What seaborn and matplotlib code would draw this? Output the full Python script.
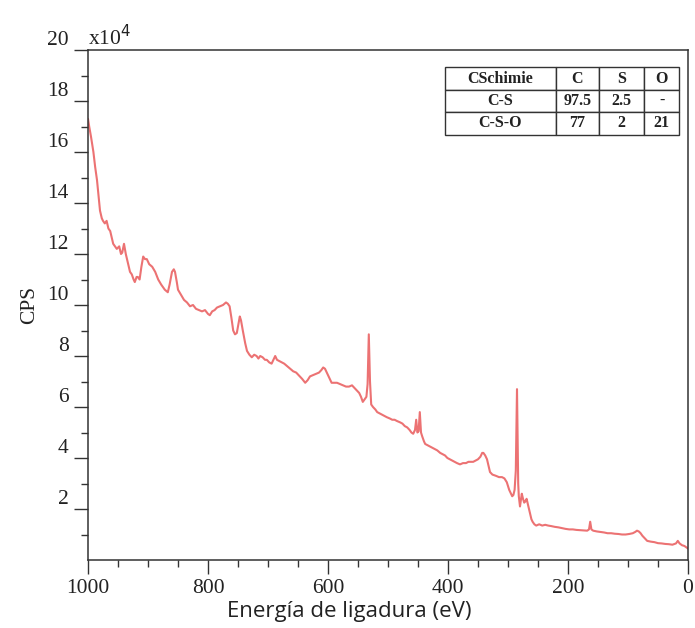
import matplotlib
matplotlib.use("Agg")
import matplotlib.pyplot as plt
import seaborn as sns

# Survey spectrum (CPS in units of 1e4)
energy_ev = [
    1000, 998, 995, 991, 988, 985, 982, 980, 977, 975, 972, 969, 966, 963, 960,
    958, 955, 952, 948, 945, 943, 940, 937, 935, 932, 930, 927, 924, 922, 919,
    917, 914, 911, 908, 905, 902, 898, 893, 888, 883, 878, 872, 867, 864, 860,
    857, 855, 852, 850, 845, 840, 835, 830, 825, 820, 815, 810, 805, 800, 797,
    793, 789, 785, 780, 775, 770, 767, 764, 761, 758, 755, 752, 749, 747, 745,
    742, 738, 735, 731, 727, 723, 719, 716, 713, 709, 705, 702, 698, 694, 691,
    688, 685, 681, 677, 673, 668, 663, 658, 653, 647, 643, 638, 634, 630, 625,
    620, 615, 611, 608, 605, 602, 598, 594, 590, 585, 580, 575, 570, 565, 560,
    556, 552, 548, 545, 542, 539, 536, 534, 532, 530, 528, 525, 521, 518, 514,
    510, 506, 502, 497, 493, 489, 485, 480, 476, 472, 468, 464, 461, 458, 455,
    453, 451, 449, 447, 445, 443, 440, 438, 434, 430, 426, 422, 418, 413, 409,
    405, 401, 397, 393, 389, 385, 380, 375, 370, 366, 362, 358, 354, 350, 346,
    343, 341, 338, 335, 332, 330, 326, 320, 315, 310, 306, 302, 298, 295, 293,
    291, 289, 287, 285, 284, 283, 282, 281, 280, 278, 277, 275, 273, 271, 269,
    267, 265, 263, 261, 259, 256, 253, 248, 243, 238, 233, 228, 222, 216, 210,
    204, 198, 192, 186, 180, 174, 168, 165, 163, 161, 158, 152, 146, 140, 134,
    128, 122, 116, 110, 104, 98, 92, 88, 85, 82, 79, 76, 72, 68, 62,
    56, 50, 44, 38, 32, 26, 20, 17, 14, 10, 6, 3, 0,
]
cps_e4 = [
    17.3, 17.0, 16.6, 16.0, 15.4, 14.9, 14.2, 13.7, 13.4, 13.3, 13.2, 13.3, 13.0, 12.9, 12.6,
    12.4, 12.3, 12.2, 12.3, 12.0, 12.05, 12.4, 12.0, 11.8, 11.5, 11.3, 11.2, 11.0, 10.9, 11.1,
    11.1, 11.0, 11.5, 11.9, 11.8, 11.8, 11.6, 11.5, 11.3, 11.0, 10.8, 10.6, 10.5, 10.8, 11.3,
    11.4, 11.3, 10.9, 10.6, 10.4, 10.2, 10.1, 9.95, 10.0, 9.85, 9.8, 9.75, 9.8, 9.65, 9.6,
    9.75, 9.8, 9.9, 9.95, 10.0, 10.1, 10.05, 9.95, 9.5, 9.0, 8.85, 8.9, 9.3, 9.55, 9.4,
    9.0, 8.5, 8.2, 8.05, 7.95, 8.05, 8.0, 7.9, 8.0, 7.95, 7.85, 7.85, 7.75, 7.7, 7.85,
    8.0, 7.85, 7.8, 7.75, 7.7, 7.6, 7.5, 7.4, 7.35, 7.2, 7.1, 6.95, 7.05, 7.2, 7.25,
    7.3, 7.35, 7.45, 7.55, 7.5, 7.35, 7.15, 6.95, 6.95, 6.95, 6.9, 6.85, 6.8, 6.8, 6.85,
    6.75, 6.65, 6.55, 6.4, 6.2, 6.3, 6.4, 6.9, 8.85, 7.0, 6.1, 6.0, 5.9, 5.8, 5.75,
    5.7, 5.65, 5.6, 5.55, 5.5, 5.5, 5.45, 5.4, 5.35, 5.25, 5.2, 5.1, 5.0, 4.95, 5.1,
    5.5, 5.0, 5.05, 5.8, 5.0, 4.85, 4.65, 4.55, 4.5, 4.45, 4.4, 4.35, 4.3, 4.2, 4.15,
    4.1, 4.0, 3.95, 3.9, 3.85, 3.8, 3.75, 3.8, 3.8, 3.85, 3.85, 3.85, 3.9, 3.95, 4.05,
    4.2, 4.2, 4.1, 3.95, 3.65, 3.45, 3.35, 3.3, 3.25, 3.25, 3.2, 3.05, 2.75, 2.6, 2.5,
    2.55, 2.75, 3.5, 6.7, 5.0, 3.0, 2.5, 2.3, 2.1, 2.45, 2.6, 2.4, 2.25, 2.3, 2.4,
    2.2, 2.0, 1.8, 1.6, 1.5, 1.4, 1.35, 1.4, 1.35, 1.38, 1.35, 1.33, 1.3, 1.28, 1.25,
    1.22, 1.2, 1.2, 1.18, 1.17, 1.16, 1.15, 1.2, 1.5, 1.2, 1.15, 1.12, 1.1, 1.08, 1.05,
    1.05, 1.03, 1.02, 1.0, 1.0, 1.02, 1.05, 1.1, 1.15, 1.12, 1.05, 0.95, 0.85, 0.75, 0.72,
    0.7, 0.66, 0.65, 0.63, 0.62, 0.6, 0.65, 0.75, 0.65, 0.58, 0.55, 0.5, 0.45,
]

x_ticks = [1000, 800, 600, 400, 200, 0]
y_ticks = [2, 4, 6, 8, 10, 12, 14, 16, 18, 20]

table_cols = ["CSchimie", "C", "S", "O"]
table_rows = [["C-S", "97.5", "2.5", "-"], ["C-S-O", "77", "2", "21"]]

_LINE_COLOR = "#ec7273"
_SERIF = ["Liberation Serif", "DejaVu Serif"]

sns.set_style("ticks")
plt.rcParams["font.family"] = _SERIF

fig = plt.figure(figsize=(6.95, 6.28), dpi=100)
ax = fig.add_axes([88 / 695, (628 - 560) / 628, 600 / 695, 510 / 628])

sns.lineplot(x=energy_ev, y=cps_e4, ax=ax, color=_LINE_COLOR, linewidth=1.5,
             estimator=None, sort=False)

ax.set_xlim(1000, 0)
ax.set_ylim(0, 20)
ax.set_xticks(x_ticks)
ax.set_xticks(list(range(50, 1000, 50)), minor=True)
ax.set_yticks(y_ticks)
ax.set_yticks(list(range(1, 20, 2)), minor=True)
ax.set_xticklabels([str(v) for v in x_ticks])
ax.set_yticklabels([str(v) for v in y_ticks])

ax.tick_params(axis="both", which="major", direction="out", length=10, width=1,
               colors="#333333", labelcolor="#222222", labelsize=15.5, pad=4)
ax.tick_params(axis="both", which="minor", direction="out", length=5, width=1,
               colors="#333333")
for lab in ax.get_yticklabels():
    lab.set_verticalalignment("bottom")

for side in ["left", "bottom", "top", "right"]:
    ax.spines[side].set_visible(True)
    ax.spines[side].set_color("#333333")
    ax.spines[side].set_linewidth(1.1)

ax.set_xlabel("Energía de ligadura (eV)", fontsize=16, family=["Open Sans", "DejaVu Sans"],
              color="#222222")
ax.xaxis.set_label_coords(0.435, -0.08)
ax.set_ylabel("CPS", fontsize=15.5, color="#222222")
ax.yaxis.set_label_coords(-0.082, 0.5)

ax.text(0.0, 1.0, r"x10$^4$", transform=ax.transAxes, fontsize=15.5, color="#222222",
        ha="left", va="bottom")

tbl = ax.table(cellText=table_rows, colLabels=table_cols, cellLoc="center",
               bbox=[0.595, 0.834, 0.39, 0.132])
tbl.auto_set_font_size(False)
widths = [111, 44, 45, 35]
for (r, c), cell in tbl.get_celld().items():
    cell.set_width(widths[c] / 600)
    cell.set_linewidth(1.0)
    cell.set_edgecolor("#333333")
    cell.get_text().set_fontsize(11.5)
    cell.get_text().set_fontweight("bold")
    cell.get_text().set_color("#222222")

fig.savefig("out.png", dpi=100)
